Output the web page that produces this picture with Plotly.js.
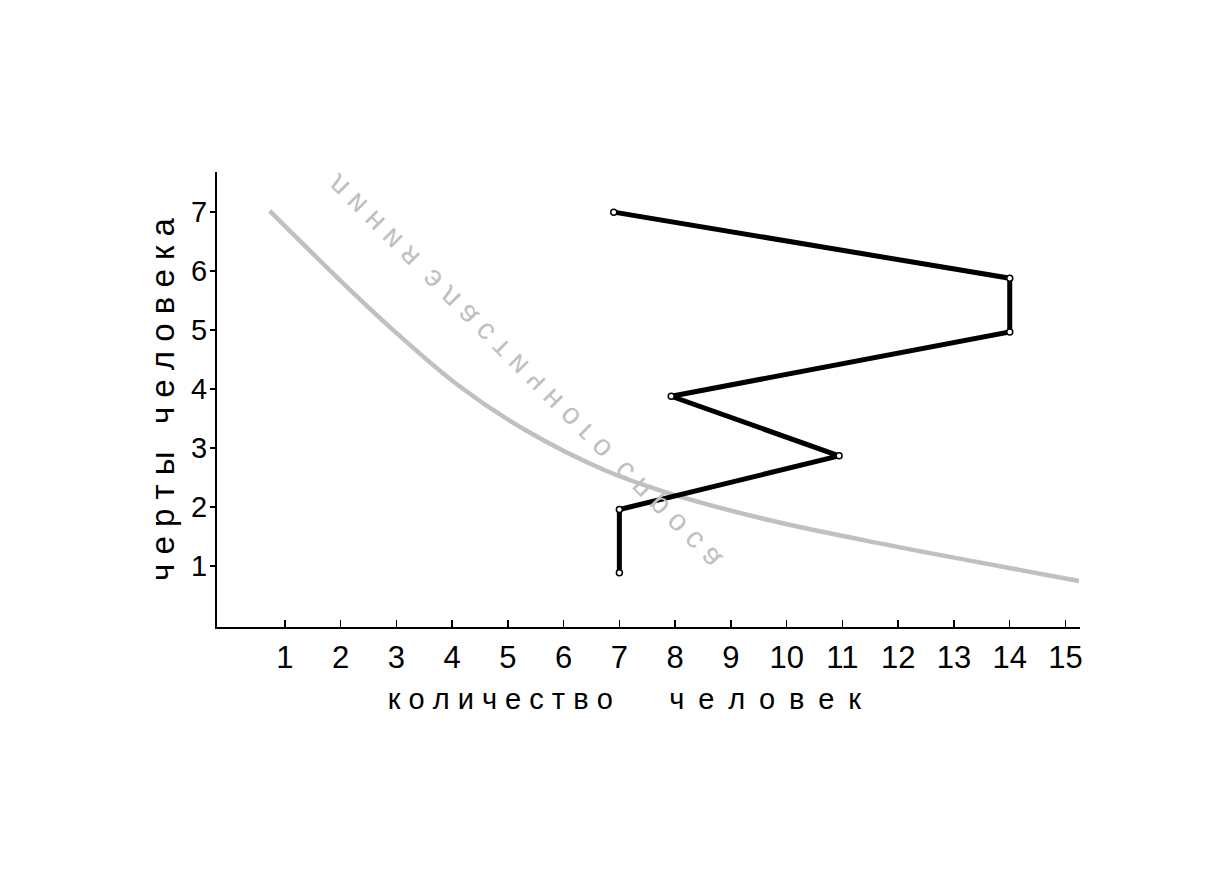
<!DOCTYPE html>
<html>
<head>
<meta charset="utf-8">
<script src="https://cdn.plot.ly/plotly-3.0.1.min.js"></script>
<style>html,body{margin:0;padding:0;background:#fff;}</style>
</head>
<body>
<div id="chart" style="width:1214px;height:869px;"></div>
<script>
// ---- data ----
const xTickVals = [1,2,3,4,5,6,7,8,9,10,11,12,13,14,15];
const yTickVals = [1,2,3,4,5,6,7];
const xTitleWords = ["количество", "человек"];
const yTitleWords = ["черты", "человека"];
const curveLabel = "линия эластичного спроса";

// black zig-zag path (количество человек, черты человека)
const pathX = [7.0, 7.0, 10.94, 7.93, 14.0, 14.0, 6.9];
const pathY = [0.89, 1.96, 2.87, 3.88, 4.97, 5.88, 7.0];

// grey demand curve
const curveX = [0.73, 2.02, 2.97, 4.09, 5.29, 6.73, 7.81, 9.6, 11.44, 13.31, 15.24];
const curveY = [7.02, 5.82, 4.98, 4.08, 3.32, 2.63, 2.26, 1.80, 1.43, 1.09, 0.75];

const NB = '\u00A0', THIN = '\u2009';
function spaceWord(w, joiner) { return w.split('').join(joiner); }

const FONT = '"Liberation Sans", Arial, sans-serif';

const xTitle = spaceWord(xTitleWords[0], NB) + NB.repeat(7) + spaceWord(xTitleWords[1], NB + THIN) + NB.repeat(6) + '\u200B';
const yTitle = spaceWord(yTitleWords[0], NB) + NB.repeat(3) + spaceWord(yTitleWords[1], NB);
const annText = curveLabel.split(' ').map(w => spaceWord(w, NB)).join(NB + NB);

const data = [
  {
    x: curveX, y: curveY, type: 'scatter', mode: 'lines',
    line: {color: '#c0c0c0', width: 4.5, shape: 'spline', smoothing: 1},
    hoverinfo: 'skip', showlegend: false
  },
  {
    x: pathX, y: pathY, type: 'scatter', mode: 'lines+markers',
    line: {color: '#000000', width: 5},
    marker: {symbol: 'circle', size: 6, color: '#ffffff', line: {color: '#000000', width: 1.5}},
    showlegend: false
  }
];

const layout = {
  width: 1214, height: 869,
  margin: {l: 217, r: 134, t: 172, b: 242, pad: 0},
  paper_bgcolor: '#ffffff', plot_bgcolor: '#ffffff',
  font: {family: FONT, color: '#000000'},
  showlegend: false,
  xaxis: {
    range: [-0.215, 15.26], tickmode: 'array', tickvals: xTickVals,
    ticktext: xTickVals.map(String),
    showgrid: false, zeroline: false, showline: true, linecolor: '#000', linewidth: 2,
    ticks: 'inside', ticklen: 7, tickwidth: 1.5, tickcolor: '#000',
    ticklabelstandoff: 2,
    tickfont: {family: FONT, size: 31, color: '#000'},
    title: {text: xTitle, font: {family: FONT, size: 29, color: '#000'}, standoff: 14}
  },
  yaxis: {
    range: [-0.03, 7.68], tickmode: 'array', tickvals: yTickVals,
    ticktext: yTickVals.map(String),
    showgrid: false, zeroline: false, showline: true, linecolor: '#000', linewidth: 2,
    ticks: 'outside', ticklen: 5, tickwidth: 1.5, tickcolor: '#000',
    ticklabelstandoff: -3,
    tickfont: {family: FONT, size: 29, color: '#000'},
    title: {text: yTitle, font: {family: FONT, size: 33, color: '#000'}, standoff: 7}
  },
  yaxis2: {
    overlaying: 'y', side: 'left', range: [-0.03, 7.68], tickmode: 'array', tickvals: yTickVals,
    showticklabels: false, showgrid: false, zeroline: false, showline: false,
    ticks: 'inside', ticklen: 5, tickwidth: 1.5, tickcolor: '#000'
  },
  annotations: [
    {
      xref: 'paper', yref: 'paper', x: 0.3557, y: 0.5604,
      xanchor: 'center', yanchor: 'middle', showarrow: false,
      text: annText, textangle: 45,
      font: {family: FONT, size: 30, color: '#c0c0c0'}
    }
  ]
};

Plotly.newPlot('chart', data, layout, {staticPlot: true, displayModeBar: false}).then(gd => {
  const t = gd.querySelector('.annotation-text');
  if (t) {
    const b = t.getBBox();
    const cy = b.y + b.height / 2;
    t.setAttribute('transform', 'translate(0,' + (2 * cy) + ') scale(1,-1)');
  }
});
</script>
</body>
</html>
